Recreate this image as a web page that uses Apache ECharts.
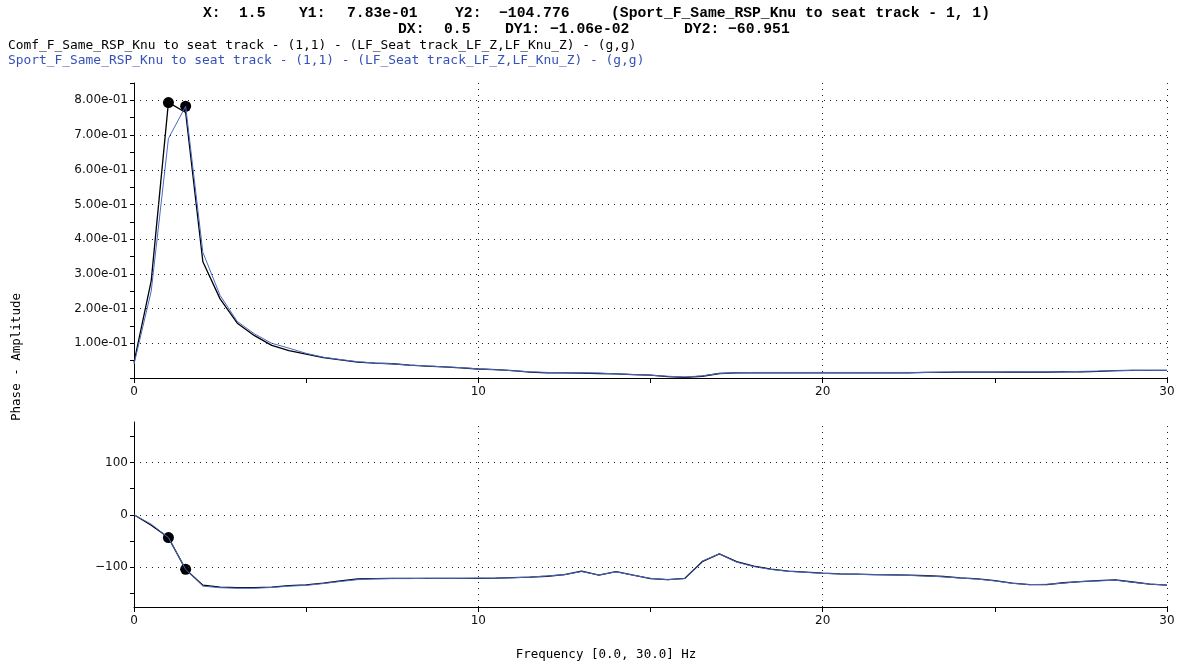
<!DOCTYPE html>
<html>
<head>
<meta charset="utf-8">
<script src="https://cdn.jsdelivr.net/npm/echarts@6/dist/echarts.min.js"></script>
<style>
  html, body { margin: 0; padding: 0; background: #fff; }
  #chart { width: 1179px; height: 663px; }
</style>
</head>
<body>
<div id="chart"></div>
<script>
// ----------------------
// Dados
// ----------------------
const freq = [0, 0.5, 1, 1.5, 2, 2.5, 3, 3.5, 4, 4.5, 5, 5.5, 6, 6.5, 7, 7.5, 8, 8.5, 9, 9.5,
  10, 10.5, 11, 11.5, 12, 12.5, 13, 13.5, 14, 14.5, 15, 15.5, 16, 16.5, 17, 17.5, 18, 18.5, 19, 19.5,
  20, 20.5, 21, 21.5, 22, 22.5, 23, 23.5, 24, 24.5, 25, 25.5, 26, 26.5, 27, 27.5, 28, 28.5, 29, 29.5, 30];

const comfAmp = [0.045, 0.28, 0.794, 0.765, 0.335, 0.228, 0.158, 0.122, 0.094, 0.079, 0.069, 0.059, 0.052, 0.046, 0.043, 0.041, 0.037, 0.034, 0.032, 0.029,
  0.026, 0.024, 0.021, 0.017, 0.015, 0.015, 0.014, 0.013, 0.012, 0.010, 0.008, 0.004, 0.002, 0.005, 0.013, 0.015, 0.015, 0.015, 0.015, 0.015,
  0.015, 0.015, 0.015, 0.015, 0.015, 0.015, 0.016, 0.016, 0.017, 0.017, 0.017, 0.017, 0.017, 0.017, 0.018, 0.018, 0.019, 0.021, 0.022, 0.022, 0.022];

const sportAmp = [0.040, 0.25, 0.69, 0.783, 0.362, 0.238, 0.163, 0.127, 0.100, 0.086, 0.071, 0.060, 0.053, 0.047, 0.043, 0.041, 0.037, 0.035, 0.032, 0.030,
  0.026, 0.024, 0.021, 0.018, 0.016, 0.015, 0.015, 0.014, 0.012, 0.010, 0.008, 0.005, 0.003, 0.006, 0.013, 0.015, 0.016, 0.016, 0.016, 0.016,
  0.016, 0.016, 0.016, 0.016, 0.016, 0.016, 0.016, 0.017, 0.017, 0.017, 0.017, 0.018, 0.018, 0.018, 0.018, 0.019, 0.020, 0.021, 0.022, 0.022, 0.022];

const comfPh = [0, -20, -43.8, -104.8, -135, -139, -140, -140, -139, -136, -134.5, -131, -127, -123, -122.5, -122, -122, -122, -122, -122,
  -122, -121.5, -120.5, -119.5, -118, -115, -108, -116, -109, -116, -122.5, -124.5, -122, -90, -75, -90, -98.5, -104.5, -108, -110,
  -112, -113.5, -114, -115, -115.5, -116, -117, -118.5, -121, -123, -126.5, -131, -134, -134, -130.5, -128.5, -126.5, -125, -129, -133, -135];

const sportPh = [0, -18, -43.8, -104.8, -137, -140, -141, -141, -139.5, -137, -135.5, -132, -128, -124.5, -123, -122.5, -122.5, -122, -122, -122,
  -121.5, -121.5, -121, -119.5, -117.5, -115, -109, -115.5, -109.5, -116, -122, -124.5, -122.5, -89, -75, -91, -99.5, -105, -108.5, -110.5,
  -112.5, -113.5, -114.5, -115, -115.5, -116.5, -117.5, -119, -121.5, -123.5, -127, -131.5, -134, -133.5, -131, -128, -127, -125.5, -129.5, -133, -135];

// cursores
const cursorF = [1.0, 1.5];
const cursorAmp = [0.7936, 0.783];
const cursorPh = [-43.825, -104.776];

// grades / ticks
const ampGrid = [0.1, 0.2, 0.3, 0.4, 0.5, 0.6, 0.7, 0.8];
const phGrid = [-100, 0, 100];
const phTicks = [-150, -100, -50, 0, 50, 100, 150];
const phLabels = [-100, 0, 100];
const freqGrid = [10, 20, 30];

const COLOR_BLACK = '#000000';
const COLOR_BLUE = '#4a68c8';
const COLOR_BLUE_TXT = '#3552b8';

// ----------------------
// Helpers
// ----------------------
const pairs = (xs, ys) => xs.map((x, i) => [x, ys[i]]);

function expLabel(v) {
  if (v <= 0) return '';
  const r = Math.round(v * 100) / 100;
  if (Math.abs(r * 10 - Math.round(r * 10)) > 1e-6) return '';
  const s = r.toExponential(2);          // 8.00e-1
  const [m, e] = s.split('e');
  const sign = e[0] === '-' ? '-' : '+';
  const d = e.replace(/[+-]/, '').padStart(2, '0');
  return m + 'e' + sign + d;
}

const gridLine = { color: '#222', type: [1, 5], width: 1 };
const hGrid = vals => vals.map(v => ({ yAxis: v }));
const vGrid = vals => vals.map(v => ({ xAxis: v }));

const axisLabelStyle = { color: '#111', fontFamily: 'DejaVu Sans', fontSize: 12 };
const HEAD_FONT = 'bold 14.7px "Liberation Mono"';
const LEG_FONT = '12.9px "DejaVu Sans Mono"';

// ----------------------
// Gráfico
// ----------------------
const chart = echarts.init(document.getElementById('chart'));
chart.setOption({
  animation: false,
  backgroundColor: '#fff',
  grid: [
    { left: 134, right: 12, top: 83, height: 295 },
    { left: 134, right: 12, top: 422, height: 185 }
  ],
  xAxis: [0, 1].map(i => ({
    type: 'value',
    gridIndex: i,
    min: 0, max: 30, interval: 5,
    axisLine: { onZero: false, lineStyle: { color: COLOR_BLACK } },
    axisTick: { length: 5, lineStyle: { color: COLOR_BLACK } },
    axisLabel: { ...axisLabelStyle, margin: 8, formatter: v => (v % 10 === 0 ? String(v) : '') },
    splitLine: { show: false }
  })),
  yAxis: [
    {
      type: 'value', gridIndex: 0,
      min: 0, max: 0.85, interval: 0.05,
      axisLine: { show: true, lineStyle: { color: COLOR_BLACK } },
      axisTick: { show: true, length: 4, lineStyle: { color: COLOR_BLACK } },
      axisLabel: { ...axisLabelStyle, margin: 6, formatter: expLabel },
      splitLine: { show: false }
    },
    {
      type: 'value', gridIndex: 1,
      min: -177, max: 178,
      axisLine: { show: true, onZero: false, lineStyle: { color: COLOR_BLACK } },
      axisTick: { show: true, length: 4, customValues: phTicks, lineStyle: { color: COLOR_BLACK } },
      axisLabel: { ...axisLabelStyle, margin: 6, customValues: phLabels, formatter: v => String(v).replace('-', '\u2212') },
      splitLine: { show: false }
    }
  ],
  series: [
    {
      name: 'Comf', type: 'line', xAxisIndex: 0, yAxisIndex: 0,
      data: pairs(freq, comfAmp), showSymbol: false,
      lineStyle: { color: COLOR_BLACK, width: 1.3 },
      markLine: {
        silent: true, symbol: ['none', 'none'], label: { show: false },
        lineStyle: gridLine,
        data: hGrid(ampGrid).concat(vGrid(freqGrid))
      }
    },
    {
      name: 'Sport', type: 'line', xAxisIndex: 0, yAxisIndex: 0,
      data: pairs(freq, sportAmp), showSymbol: false,
      lineStyle: { color: COLOR_BLUE, width: 1 }
    },
    {
      type: 'scatter', xAxisIndex: 0, yAxisIndex: 0,
      data: pairs(cursorF, cursorAmp), symbolSize: 11,
      itemStyle: { color: COLOR_BLACK, opacity: 1 }
    },
    {
      name: 'Comf', type: 'line', xAxisIndex: 1, yAxisIndex: 1,
      data: pairs(freq, comfPh), showSymbol: false,
      lineStyle: { color: COLOR_BLACK, width: 1.3 },
      markLine: {
        silent: true, symbol: ['none', 'none'], label: { show: false },
        lineStyle: gridLine,
        data: hGrid(phGrid).concat(vGrid(freqGrid))
      }
    },
    {
      name: 'Sport', type: 'line', xAxisIndex: 1, yAxisIndex: 1,
      data: pairs(freq, sportPh), showSymbol: false,
      lineStyle: { color: COLOR_BLUE, width: 1 }
    },
    {
      type: 'scatter', xAxisIndex: 1, yAxisIndex: 1,
      data: pairs(cursorF, cursorPh), symbolSize: 11,
      itemStyle: { color: COLOR_BLACK, opacity: 1 }
    }
  ],
  graphic: [
    // cabeçalho do cursor
    ...[
      ['X:', 203, 13], ['1.5', 239, 13], ['Y1:', 299, 13], ['7.83e-01', 347, 13],
      ['Y2:', 455, 13], ['\u2212104.776', 499, 13], ['(Sport_F_Same_RSP_Knu to seat track - 1, 1)', 611, 13],
      ['DX:', 398, 29], ['0.5', 444, 29], ['DY1:', 505, 29], ['\u22121.06e-02', 550, 29],
      ['DY2:', 684, 29], ['\u221260.951', 728, 29]
    ].map(([t, x, y]) => ({
      type: 'text', x: x, y: y,
      style: { text: t, fill: '#000', font: HEAD_FONT, verticalAlign: 'middle' }
    })),
    {
      type: 'text', x: 8, y: 46,
      style: { text: 'Comf_F_Same_RSP_Knu to seat track - (1,1) - (LF_Seat track_LF_Z,LF_Knu_Z) - (g,g)', fill: '#000', font: LEG_FONT, verticalAlign: 'middle' }
    },
    {
      type: 'text', x: 8, y: 61,
      style: { text: 'Sport_F_Same_RSP_Knu to seat track - (1,1) - (LF_Seat track_LF_Z,LF_Knu_Z) - (g,g)', fill: COLOR_BLUE_TXT, font: LEG_FONT, verticalAlign: 'middle' }
    },
    {
      type: 'text', x: 606, y: 655,
      style: { text: 'Frequency [0.0, 30.0] Hz', fill: '#000', font: '12.5px "DejaVu Sans Mono"', align: 'center', verticalAlign: 'middle' }
    },
    {
      type: 'text', x: 17, y: 357, rotation: Math.PI / 2,
      style: { text: 'Phase - Amplitude', fill: '#000', font: '12.5px "DejaVu Sans Mono"', align: 'center', verticalAlign: 'middle' }
    }
  ]
});

window.addEventListener('resize', () => chart.resize());
</script>
</body>
</html>
